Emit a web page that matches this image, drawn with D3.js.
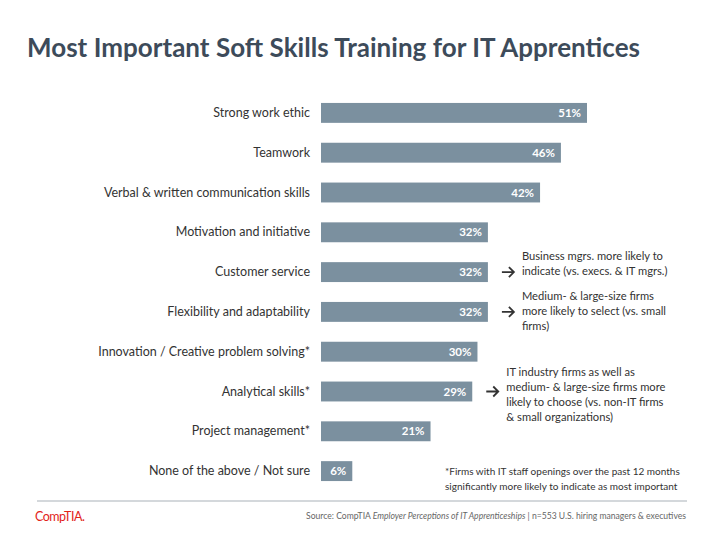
<!DOCTYPE html>
<html><head><meta charset="utf-8">
<script src="https://cdn.jsdelivr.net/npm/d3@7"></script>
<style>body{margin:0;background:#fff}text{font-family:Lato,"Open Sans",sans-serif}</style>
</head><body>
<script>
var width = 720, height = 540;

var skills = ["Strong work ethic", "Teamwork", "Verbal & written communication skills",
  "Motivation and initiative", "Customer service", "Flexibility and adaptability",
  "Innovation / Creative problem solving*", "Analytical skills*", "Project management*",
  "None of the above / Not sure"];
var pct = [51, 46, 42, 32, 32, 32, 30, 29, 21, 6];

var notes = [
  {row: 4, lines: ["Business mgrs. more likely to", "indicate (vs. execs. & IT mgrs.)"]},
  {row: 5, lines: ["Medium- & large-size firms", "more likely to select (vs. small", "firms)"]},
  {row: 7, lines: ["IT industry firms as well as", "medium- & large-size firms more", "likely to choose (vs. non-IT firms", "& small organizations)"]}
];

var svg = d3.select("body").append("svg")
  .attr("width", width).attr("height", height);

svg.append("text").attr("x", 27).attr("y", 57)
  .attr("font-size", 26).attr("font-weight", "bold").attr("fill", "#3d4b5a")
  .attr("textLength", 613)
  .text("Most Important Soft Skills Training for IT Apprentices");

var x = d3.scaleLinear().domain([0, 51]).range([321, 587]);
var y = d3.scaleBand().domain(skills).range([93, 491]).paddingInner(0.5).paddingOuter(0.25);

var g = svg.append("g");
g.selectAll("rect").data(skills).enter().append("rect")
  .attr("x", x(0)).attr("y", function(d) { return y(d); })
  .attr("width", function(d, i) { return x(pct[i]) - x(0); })
  .attr("height", y.bandwidth()).attr("fill", "#7b909f");

g.selectAll(".lab").data(skills).enter().append("text")
  .attr("x", 310).attr("y", function(d) { return y(d) + y.bandwidth() / 2 + 4; })
  .attr("text-anchor", "end").attr("font-size", 12.5).attr("fill", "#333")
  .text(function(d) { return d; });

g.selectAll(".val").data(skills).enter().append("text")
  .attr("x", function(d, i) { return x(pct[i]) - 6; })
  .attr("y", function(d) { return y(d) + y.bandwidth() / 2 + 4; })
  .attr("text-anchor", "end").attr("font-size", 11.5).attr("font-weight", "bold").attr("fill", "#fff")
  .text(function(d, i) { return pct[i] + "%"; });

notes.forEach(function(n) {
  var cy = y(skills[n.row]) + y.bandwidth() / 2;
  var ax = x(pct[n.row]) + 14;
  svg.append("path").attr("d", "M" + ax + "," + cy + "h12 M" + (ax + 7) + "," + (cy - 5) + "l5,5l-5,5")
    .attr("stroke", "#333").attr("stroke-width", 1.8).attr("fill", "none");
  var t = svg.append("text").attr("font-size", 11.2).attr("fill", "#333");
  var top = n.lines.length > 3 ? cy - 16 : cy - 12;
  n.lines.forEach(function(l, i) {
    t.append("tspan").attr("x", ax + 20).attr("y", top + i * 15).text(l);
  });
});

var fn = svg.append("text").attr("font-size", 10).attr("fill", "#333");
fn.append("tspan").attr("x", 445).attr("y", 475).text("*Firms with IT staff openings over the past 12 months");
fn.append("tspan").attr("x", 445).attr("y", 490).text("significantly more likely to indicate as most important");

svg.append("line").attr("x1", 37).attr("x2", 687).attr("y1", 501).attr("y2", 501)
  .attr("stroke", "#a9b1b8").attr("stroke-width", 1);

svg.append("text").attr("x", 35).attr("y", 521).attr("font-size", 12.5).attr("fill", "#e2231a")
  .attr("letter-spacing", -0.5).text("CompTIA.");

var src = svg.append("text").attr("x", 686).attr("y", 519).attr("text-anchor", "end")
  .attr("font-size", 8.6).attr("fill", "#666");
src.append("tspan").text("Source: CompTIA ");
src.append("tspan").attr("font-style", "italic").text("Employer Perceptions of IT Apprenticeships");
src.append("tspan").text(" | n=553 U.S. hiring managers & executives");
</script>
</body></html>
